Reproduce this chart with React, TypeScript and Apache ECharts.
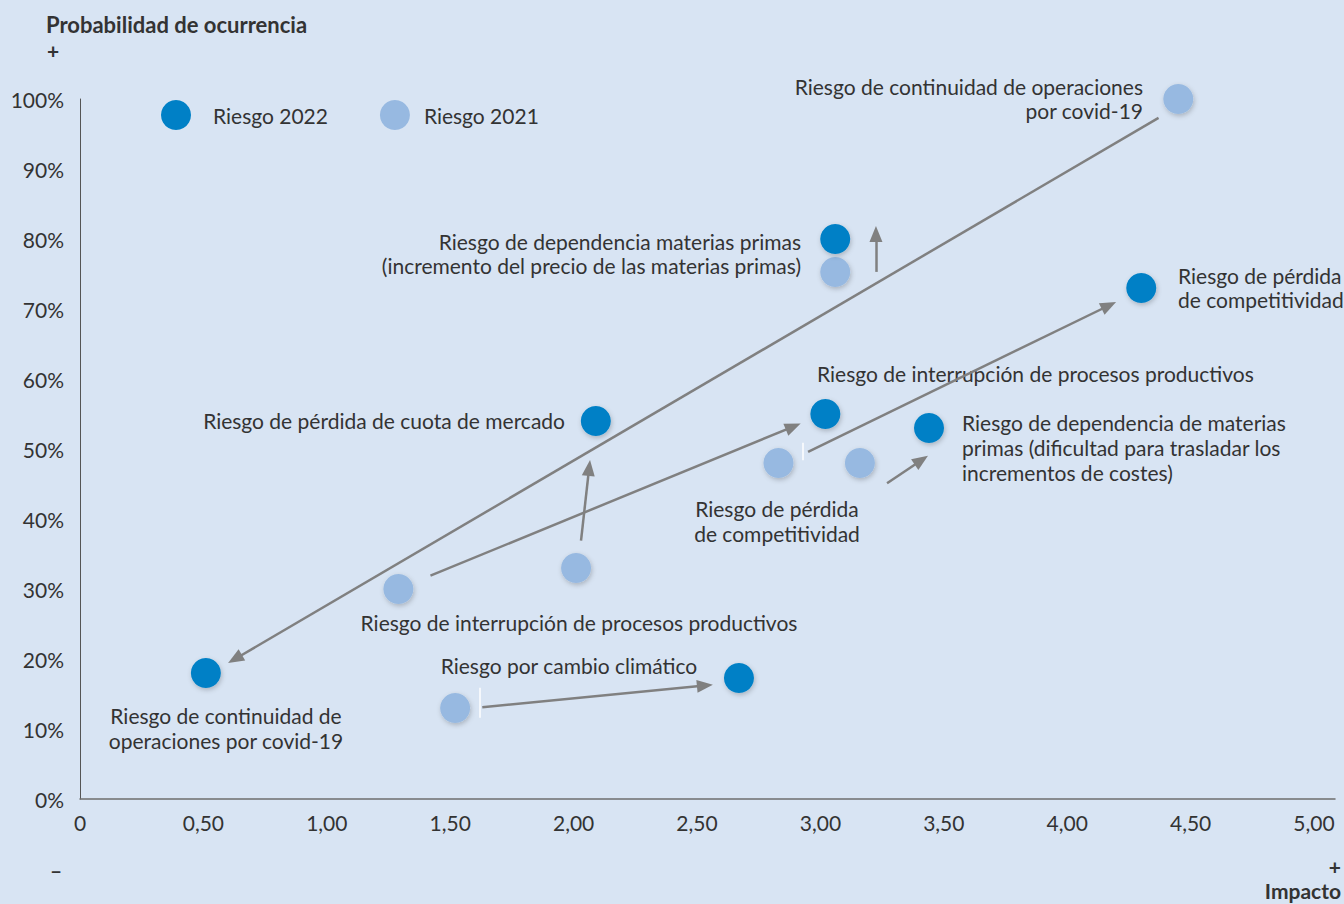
import React, { useEffect, useRef } from "react";
import * as echarts from "echarts";

// ---- Data ----
const xMin = 0;
const xMax = 5.085;
const xInterval = 0.5;
const yMin = 0;
const yMax = 100;
const yInterval = 10;

const seriesNames = ["Riesgo 2022", "Riesgo 2021"];

// [impacto, probabilidad %]
const risk2022: number[][] = [
  [0.51, 18],
  [2.09, 54],
  [3.06, 80],
  [3.02, 55],
  [4.3, 73],
  [3.44, 53],
  [2.67, 17.3],
];

const risk2021: number[][] = [
  [4.45, 100],
  [3.06, 75.3],
  [2.83, 48],
  [3.16, 48],
  [1.29, 30],
  [2.01, 33],
  [1.52, 13],
];

// arrows: from -> to (data coordinates)
const arrowFrom: number[][] = [
  [4.37, 97.3],
  [1.42, 31.9],
  [2.03, 36.9],
  [3.225, 75.3],
  [2.95, 49.6],
  [3.27, 45.1],
  [1.63, 13.1],
];
const arrowTo: number[][] = [
  [0.628, 20.0],
  [2.89, 53.2],
  [2.063, 47.3],
  [3.225, 80.7],
  [4.169, 70.5],
  [3.409, 48.4],
  [2.532, 16.2],
];

// small white separators
const tickFrom: number[][] = [
  [2.93, 48.4],
  [1.62, 11.6],
];
const tickTo: number[][] = [
  [2.93, 50.9],
  [1.62, 15.9],
];

const annotations = [
  { lines: ["Riesgo de continuidad de operaciones", "por covid-19"], x: 1143, y: 74, align: "right", lh: 24 },
  { lines: ["Riesgo de dependencia materias primas", "(incremento del precio de las materias primas)"], x: 801, y: 229, align: "right", lh: 24 },
  { lines: ["Riesgo de pérdida", "de competitividad"], x: 1178, y: 263, align: "left", lh: 24 },
  { lines: ["Riesgo de interrupción de procesos productivos"], x: 817, y: 361, align: "left", lh: 24 },
  { lines: ["Riesgo de pérdida de cuota de mercado"], x: 565, y: 408, align: "right", lh: 24 },
  { lines: ["Riesgo de dependencia de materias", "primas (dificultad para trasladar los", "incrementos de costes)"], x: 962, y: 409.5, align: "left", lh: 25 },
  { lines: ["Riesgo de pérdida", "de competitividad"], x: 777, y: 495.5, align: "center", lh: 25 },
  { lines: ["Riesgo de interrupción de procesos productivos"], x: 579, y: 610, align: "center", lh: 24 },
  { lines: ["Riesgo por cambio climático"], x: 569, y: 653, align: "center", lh: 24 },
  { lines: ["Riesgo de continuidad de", "operaciones por covid-19"], x: 226, y: 702.5, align: "center", lh: 25 },
];

const FONT = "Lato, 'Noto Sans', sans-serif";
const TEXT = "#333333";
const DARK = "#0080c6";
const LIGHT = "#97b9e1";
const BG = "#d8e4f3";
const ARROW = "#808080";
const FS = 21;

const fmtX = (v: number) => {
  if (v === 0) return "0";
  if (Math.abs(v / 0.5 - Math.round(v / 0.5)) > 1e-6) return "";
  return v.toFixed(2).replace(".", ",");
};

export default function App() {
  const ref = useRef<HTMLDivElement>(null);

  useEffect(() => {
    if (!ref.current) return;
    const chart = echarts.init(ref.current, undefined, { renderer: "svg" });

    const pointStyle = (color: string) => ({
      color,
      opacity: 1,
      shadowBlur: 5,
      shadowColor: "rgba(0,0,0,0.22)",
      shadowOffsetX: 1,
      shadowOffsetY: 2,
    });

    const graphics: any[] = annotations.map((a) => ({
      type: "text",
      x: a.x,
      y: a.y,
      silent: true,
      style: {
        text: a.lines.join("\n"),
        fill: TEXT,
        fontSize: FS,
        fontFamily: FONT,
        textAlign: a.align,
        textVerticalAlign: "top",
        lineHeight: a.lh,
      },
    }));

    const bold = (text: string, x: number, y: number, align: string, size = FS) => ({
      type: "text",
      x,
      y,
      silent: true,
      style: { text, fill: TEXT, fontSize: size, fontWeight: "bold", fontFamily: FONT, textAlign: align, textVerticalAlign: "middle" },
    });

    graphics.push(
      bold("Probabilidad de ocurrencia", 46, 24, "left", 22),
      bold("+", 47, 50, "left"),
      bold("–", 50, 869, "left"),
      bold("+", 1341, 866, "right"),
      bold("Impacto", 1341, 890, "right", 21)
    );

    chart.setOption({
      animation: false,
      backgroundColor: BG,
      textStyle: { fontFamily: FONT, color: TEXT },
      grid: { left: 80, right: 9, top: 99, bottom: 105, containLabel: false },
      legend: {
        left: 156,
        top: 95,
        icon: "circle",
        itemWidth: 30,
        itemHeight: 30,
        itemGap: 52,
        data: [
          { name: seriesNames[0], textStyle: { padding: [0, 0, 0, 17] } },
          { name: seriesNames[1], textStyle: { padding: [0, 0, 0, 9] } },
        ],
        textStyle: { fontSize: FS, color: TEXT, fontFamily: FONT },
      },
      xAxis: {
        type: "value",
        min: xMin,
        max: xMax,
        interval: xInterval,
        axisLine: { show: true, lineStyle: { color: "#6e6e6e", width: 1.5 } },
        axisTick: { show: false },
        splitLine: { show: false },
        axisLabel: {
          formatter: fmtX,
          fontSize: FS,
          color: TEXT,
          fontFamily: FONT,
          margin: 13,
          showMaxLabel: false,
        },
      },
      yAxis: {
        type: "value",
        min: yMin,
        max: yMax,
        interval: yInterval,
        axisLine: { show: true, lineStyle: { color: "#555555", width: 1 } },
        axisTick: { show: false },
        splitLine: { show: false },
        axisLabel: {
          formatter: (v: number) => `${v}%`,
          fontSize: FS,
          color: TEXT,
          fontFamily: FONT,
          margin: 16,
        },
      },
      series: [
        {
          name: "arrows",
          type: "scatter",
          data: [],
          silent: true,
          z: 1,
          markLine: {
            silent: true,
            animation: false,
            symbol: ["none", "triangle"],
            symbolSize: [13, 16],
            label: { show: false },
            emphasis: { disabled: true },
            lineStyle: { color: ARROW, width: 2.5, type: "solid", opacity: 1 },
            data: arrowFrom.map((f, i) => [{ coord: f }, { coord: arrowTo[i] }]),
          },
        },
        {
          name: "ticks",
          type: "scatter",
          data: [],
          silent: true,
          z: 1,
          markLine: {
            silent: true,
            animation: false,
            symbol: ["none", "none"],
            label: { show: false },
            emphasis: { disabled: true },
            lineStyle: { color: "#ffffff", width: 1.5, type: "solid", opacity: 1 },
            data: tickFrom.map((f, i) => [{ coord: f }, { coord: tickTo[i] }]),
          },
        },
        {
          name: seriesNames[1],
          type: "scatter",
          symbol: "circle",
          symbolSize: 30,
          z: 3,
          itemStyle: pointStyle(LIGHT),
          data: risk2021,
        },
        {
          name: seriesNames[0],
          type: "scatter",
          symbol: "circle",
          symbolSize: 30,
          z: 4,
          itemStyle: pointStyle(DARK),
          data: risk2022,
        },
      ],
      graphic: graphics,
    });

    return () => chart.dispose();
  }, []);

  return (
    <div
      ref={ref}
      style={{ position: "fixed", left: 0, top: 0, width: 1344, height: 904 }}
    />
  );
}
